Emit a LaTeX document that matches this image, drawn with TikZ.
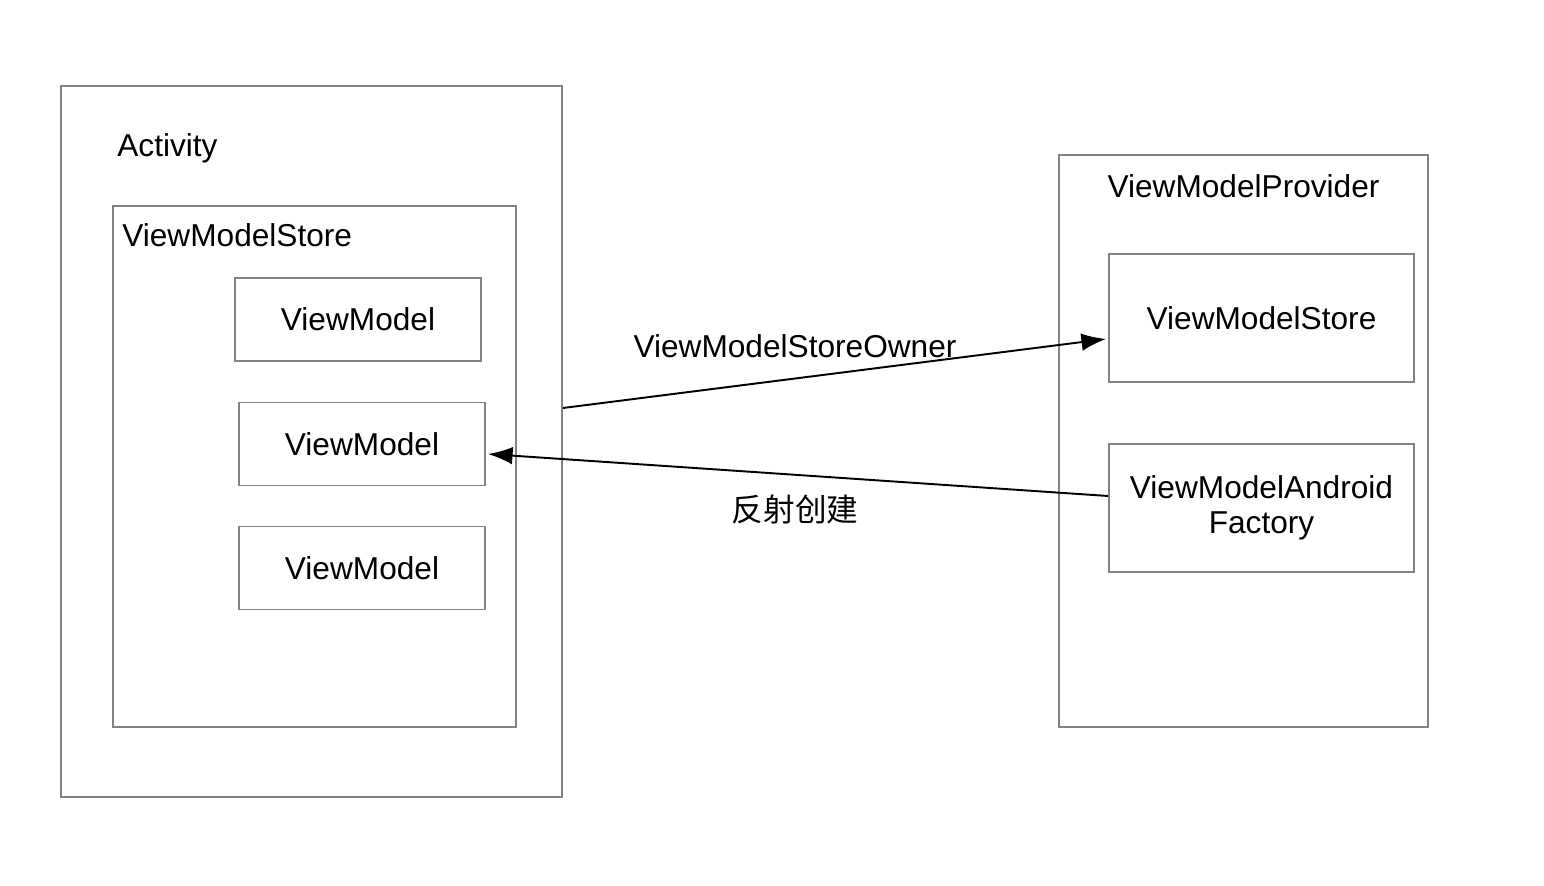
\documentclass[tikz,border=0pt]{standalone}
\usepackage{fontspec}
\setmainfont{Liberation Sans}
\newfontfamily\cjk{Noto Sans CJK SC}
\usepackage{tikz}
\usetikzlibrary{arrows.meta,positioning}
\usepackage{xcolor}
\definecolor{vmgray}{RGB}{130,130,130}
\tikzstyle{arrow} = [line width=1.1pt,-{Latex[length=14pt,width=10pt]},color=black]
\tikzstyle{frame} = [rectangle, draw=vmgray, line width=1.1pt, inner sep=0pt]
\tikzstyle{vmbox} = [frame, minimum width=4.92cm, minimum height=1.66cm, text centered]
\tikzstyle{lbl} = [font=\fontsize{18}{22}\selectfont, inner sep=0pt]

\begin{document}
\begin{tikzpicture}
\useasboundingbox (0,0) rectangle (30.88,17.72);
% left side
\node (activity) [frame, minimum width=10.02cm, minimum height=14.22cm] at (6.23,8.89) {};
\node (actlbl) [lbl, anchor=west] at (2.34,14.76) {Activity};
\node (store) [frame, minimum width=8.06cm, minimum height=10.42cm] at (6.29,8.39) {};
\node (storelbl) [lbl, anchor=west] at (2.44,13.02) {ViewModelStore};
\node (vmone) [vmbox, lbl] at (7.16,11.33) {ViewModel};
\node (vmtwo) [vmbox, lbl] at (7.24,8.84) {ViewModel};
\node (vmthree) [vmbox, lbl] at (7.24,6.36) {ViewModel};

% right side
\node (provider) [frame, minimum width=7.38cm, minimum height=11.44cm] at (24.87,8.9) {};
\node (provlbl) [lbl] at (24.87,14.0) {ViewModelProvider};
\node (rstore) [frame, lbl, minimum width=6.1cm, minimum height=2.56cm] at (25.23,11.36) {ViewModelStore};
\node (factory) [frame, lbl, minimum width=6.1cm, minimum height=2.56cm, align=center] at (25.23,7.56) {ViewModelAndroid\\[-2pt]Factory};

% connectors
\draw[arrow] ([yshift=0.67cm]activity.east) -- ([xshift=-0.04cm,yshift=-0.42cm]rstore.west);
\draw[arrow] ([yshift=0.24cm]factory.west) -- ([xshift=0.04cm,yshift=-0.2cm]vmtwo.east);
\node (ownerlbl) [lbl] at (15.9,10.8) {ViewModelStoreOwner};
\node (reflbl) [lbl, font=\fontsize{18}{22}\selectfont\cjk] at (15.9,7.52) {反射创建};
\end{tikzpicture}
\end{document}
